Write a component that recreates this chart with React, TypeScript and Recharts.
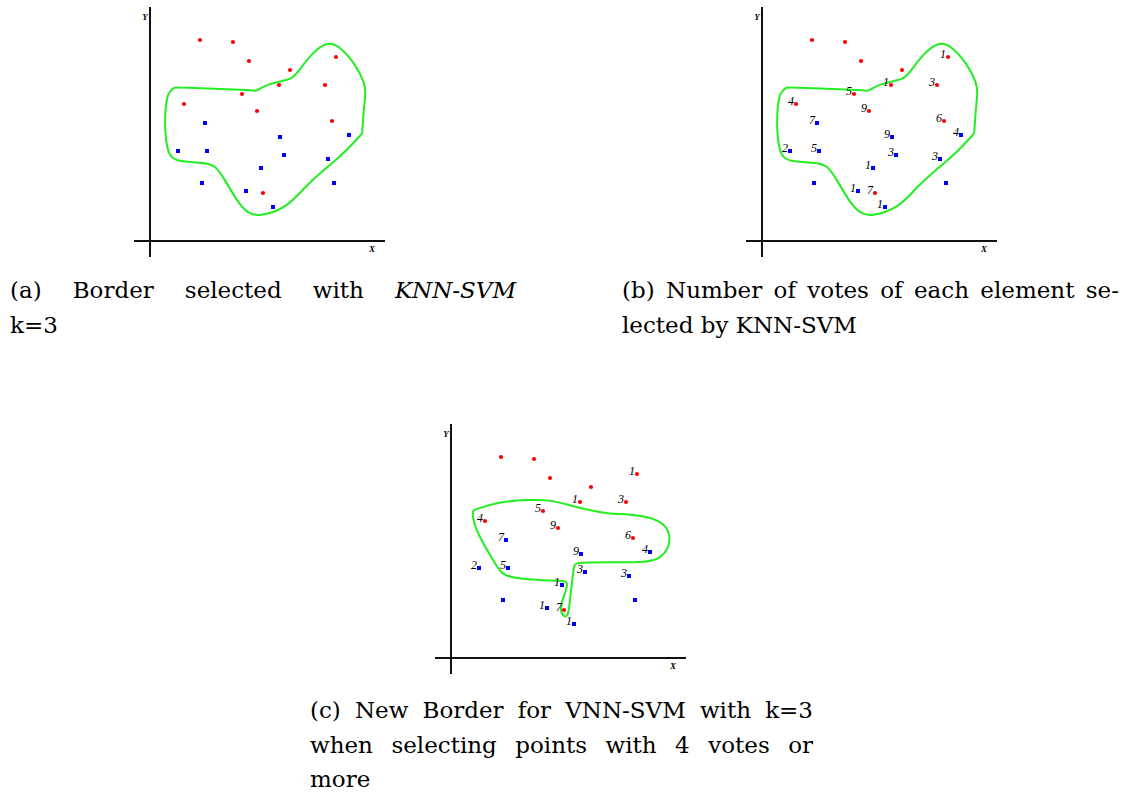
import React from 'react';
import { ScatterChart, Scatter, XAxis, YAxis, ReferenceLine } from 'recharts';

// ---- data (shared coordinate system, origin at the axes crossing) ----
const RED_X = [50, 83, 99, 140, 186, 129, 175, 92, 34, 107, 182, 113];
const RED_Y = [201, 199, 180, 171, 184, 156, 156, 147, 137, 130, 120, 48];
const RED_VOTES = ['', '', '', '', '1', '1', '3', '5', '4', '9', '6', '7'];

const BLUE_X = [55, 130, 199, 28, 57, 134, 178, 111, 52, 184, 96, 123];
const BLUE_Y = [118, 104, 106, 90, 90, 86, 82, 73, 58, 58, 50, 34];
const BLUE_VOTES = ['7', '9', '4', '2', '5', '3', '3', '1', '', '', '1', '1'];

const BORDER_KNN: [number, number][] = [
  [25, 153.7], [25, 153.7], [101.7, 151], [105.7, 150], [105.7, 150], [118.3, 157], [131.7, 160], [141.7, 162],
  [148.3, 169.3], [161.7, 187.7], [176.7, 199.3], [188.3, 196], [205, 177.7], [215, 157.7],
  [215.7, 147.7], [213.3, 127.7], [212.3, 107.7], [212.3, 107.7], [201.7, 96], [188.3, 82.7], [171.7, 69.3],
  [155, 54.3], [136.7, 32.7], [108.3, 24.3], [98.3, 27.7], [88.3, 37.7], [75, 61],
  [65, 76], [55, 78.3], [28.3, 79.3], [18.3, 84.3], [15, 107.7], [15, 127.7], [17.3, 148.7],
];

const BORDER_VNN: [number, number][] = [
  [22.3, 147.7], [22.3, 147.7], [45.7, 156], [79, 158.3], [97.3, 158.3], [119, 152.7], [139, 147.7],
  [155.7, 144.3], [179, 143.7], [199, 141], [214, 134.3], [219.7, 121], [217.3, 109.3],
  [209, 99.3], [195.7, 95.7], [162.3, 95.7], [125.7, 95.7], [123.5, 93], [123, 91], [120.7, 74.3],
  [119, 57.7], [117.3, 42.7], [114, 40.5], [110, 45], [109.7, 51], [112.3, 61],
  [115.7, 69.3], [116.3, 76], [112.3, 77], [112.3, 77], [79, 78.3], [59, 81], [50, 84.3],
  [42.3, 97.7], [32.3, 114.3], [24, 131], [21.3, 142.7],
];

const AXIS_LABELS = [
  { x: -5, y: 224, t: 'Y' },
  { x: 222, y: -7.5, t: 'X' },
];

const X_DOMAIN = [-16, 235];
const Y_DOMAIN = [-16, 234];
const GREEN = '#22ee22';

const redData = RED_X.map((x, i) => ({ x, y: RED_Y[i], v: RED_VOTES[i] }));
const blueData = BLUE_X.map((x, i) => ({ x, y: BLUE_Y[i], v: BLUE_VOTES[i] }));
const toPts = (arr: [number, number][]) => arr.map(([x, y]) => ({ x, y }));

const labelText = (cx: number, cy: number, v: string, show: boolean) =>
  show && v ? (
    <text x={cx - 2} y={cy + 0.5} textAnchor="end" fontSize={12} fontStyle="italic"
      fontFamily="'Liberation Serif', serif" fill="#000">{v}</text>
  ) : null;

const makeRed = (show: boolean) => (p: any) => (
  <g>
    <circle cx={p.cx} cy={p.cy} r={2.1} fill="#ff0000" />
    {labelText(p.cx, p.cy, p.payload?.v, show)}
  </g>
);
const makeBlue = (show: boolean) => (p: any) => (
  <g>
    <rect x={p.cx - 2} y={p.cy - 2} width={4} height={4} fill="#0000ff" />
    {labelText(p.cx, p.cy, p.payload?.v, show)}
  </g>
);
const AxisText = (p: any) => (
  <text x={p.cx} y={p.cy} textAnchor="middle" dominantBaseline="central" fontSize={9}
    fontWeight="bold" fontStyle="italic" fontFamily="'Liberation Serif', serif" fill="#000">
    {p.payload?.t}
  </text>
);
const Nothing = () => <g />;

function Panel({ left, top, votes, border }: { left: number; top: number; votes: boolean; border: [number, number][] }) {
  return (
    <div style={{ position: 'absolute', left, top }}>
      <ScatterChart width={251} height={250} margin={{ top: 0, right: 0, bottom: 0, left: 0 }}>
        <XAxis type="number" dataKey="x" domain={X_DOMAIN} hide />
        <YAxis type="number" dataKey="y" domain={Y_DOMAIN} hide />
        <ReferenceLine x={0} stroke="#111" strokeWidth={2} />
        <ReferenceLine y={0} stroke="#111" strokeWidth={2} />
        <Scatter data={toPts(border)} fill="none" line={{ stroke: GREEN, strokeWidth: 2, fill: 'none' }}
          lineType="joint" lineJointType="basisClosed" shape={Nothing} isAnimationActive={false} />
        <Scatter data={redData} shape={makeRed(votes)} isAnimationActive={false} />
        <Scatter data={blueData} shape={makeBlue(votes)} isAnimationActive={false} />
        <Scatter data={AXIS_LABELS} shape={AxisText} isAnimationActive={false} />
      </ScatterChart>
    </div>
  );
}

const capStyle: React.CSSProperties = {
  position: 'absolute',
  fontFamily: "'DejaVu Serif', serif",
  fontSize: 23,
  lineHeight: '34.5px',
  color: '#000',
  whiteSpace: 'nowrap',
};
const justLine: React.CSSProperties = { textAlign: 'justify', textAlignLast: 'justify' as any, whiteSpace: 'normal' };

export default function App() {
  return (
    <div style={{ position: 'absolute', left: 0, top: 0, width: 1131, height: 793, background: '#fff', overflow: 'hidden' }}>
      <Panel left={134} top={7} votes={false} border={BORDER_KNN} />
      <Panel left={746} top={7} votes={true} border={BORDER_KNN} />
      <Panel left={435} top={424} votes={true} border={BORDER_VNN} />

      <div style={{ ...capStyle, left: 10, top: 273, width: 506 }}>
        <div style={justLine}>(a) Border selected with <i>KNN-SVM</i></div>
        <div>k=3</div>
      </div>
      <div style={{ ...capStyle, left: 622, top: 273, width: 497 }}>
        <div style={justLine}>(b) Number of votes of each element se-</div>
        <div>lected by KNN-SVM</div>
      </div>
      <div style={{ ...capStyle, left: 310, top: 693, width: 503 }}>
        <div style={justLine}>(c) New Border for VNN-SVM with k=3</div>
        <div style={justLine}>when selecting points with 4 votes or</div>
        <div>more</div>
      </div>
    </div>
  );
}
